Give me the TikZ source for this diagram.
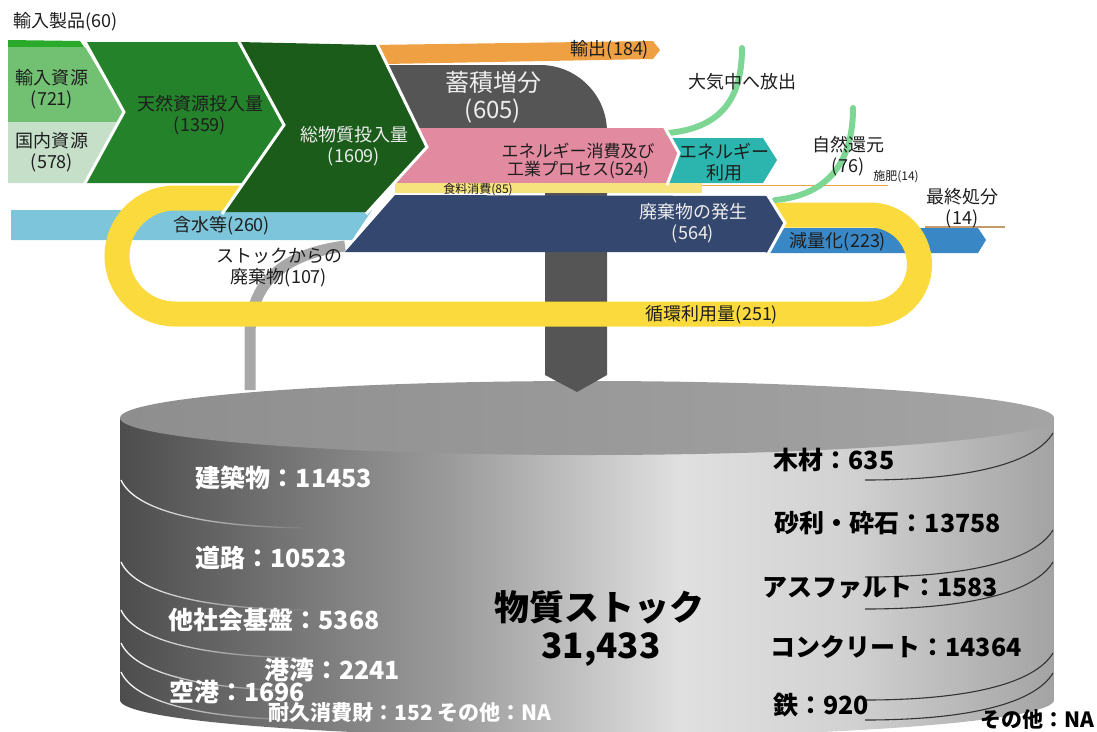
\documentclass[tikz,border=0pt]{standalone}
\usepackage{fontspec}
\setmainfont{Noto Sans CJK JP}
\usetikzlibrary{fadings}
\newcommand{\fsz}[2]{\fontsize{#1pt}{#2pt}\selectfont}
\definecolor{txtc}{HTML}{1E1E1E}
\definecolor{wtxt}{HTML}{EDEDED}
\definecolor{cLB}{HTML}{7CC5DA}
\definecolor{cStock}{HTML}{A8A8A8}
\definecolor{cGray}{HTML}{555555}
\definecolor{cBlue}{HTML}{3A87C6}
\definecolor{cTan}{HTML}{C49A6C}
\definecolor{cYel}{HTML}{FADA3C}
\definecolor{cOrange}{HTML}{EFA043}
\definecolor{cTeal}{HTML}{2BB5AE}
\definecolor{cPink}{HTML}{E28BA0}
\definecolor{cFood}{HTML}{F7E37E}
\definecolor{cNavy}{HTML}{34476E}
\definecolor{cGreenL}{HTML}{7DD693}
\definecolor{cStrip}{HTML}{2AAA2A}
\definecolor{cImp}{HTML}{72C072}
\definecolor{cDom}{HTML}{C6DFC9}
\definecolor{cNat}{HTML}{24822A}
\definecolor{cTot}{HTML}{1B5C1B}
\definecolor{csA}{HTML}{4D4D4D}
\definecolor{csB}{HTML}{9A9A9A}
\definecolor{csC}{HTML}{E0E0E0}
\definecolor{csD}{HTML}{D2D2D2}
\definecolor{csE}{HTML}{A3A3A3}
\definecolor{topL}{HTML}{8E8E8E}
\definecolor{topR}{HTML}{A4A4A4}
\pgfdeclarehorizontalshading{cylside}{100bp}{color(0bp)=(csA); color(25bp)=(csA); color(42.5bp)=(csB); color(55bp)=(csC); color(64bp)=(csD); color(75bp)=(csE); color(100bp)=(csE)}
\begin{document}
\begin{tikzpicture}[x=1pt,y=-1pt,
  lbl/.style={font=\fsz{18}{21}, text=txtc, align=center, inner sep=0pt},
  slbl/.style={font=\fsz{12}{14}, text=txtc, inner sep=0pt},
  wlbl/.style={lbl, text=wtxt},
  cw/.style={font=\bfseries\fsz{25}{28}, text=white, inner sep=0pt},
  cb/.style={font=\bfseries\fsz{25}{28}, text=black, inner sep=0pt},
  gapline/.style={draw=white, line width=3pt},
  gcurve/.style={draw=cGreenL, line width=6pt, line cap=round}]
\useasboundingbox (0,0) rectangle (1097,731);

% ---------- cylinder ----------
\shade[shading=cylside] (120,418) -- (120,700) arc[start angle=180, end angle=360, x radius=467pt, y radius=37pt] -- (1054,418) -- cycle;
\foreach \y in {480,562,610,643,672}{
  \draw[white, line width=1.3pt, path fading=east] (121,\y) .. controls (135,\y+30) and (200,\y+47) .. (310,\y+48);
}
\foreach \y in {433,530,562,653,673}{
  \draw[black!80, line width=1.1pt] (1053,\y) .. controls (1035,\y+30) and (970,\y+47) .. (865,\y+47);
}
\shade[left color=topL, right color=topR] (587,418) ellipse [x radius=467pt, y radius=37pt];

% ---------- flows ----------
\draw[cStock, line width=11pt] (250,390) -- (250,335) .. controls (250,290) and (275,255) .. (345,246);
\fill[cLB] (11,210) -- (372,210) -- (352,240) -- (11,240) -- cycle;
\fill[cGray] (380,65) -- (540,65) arc[start angle=90, end angle=0, radius=67pt] -- (607,375) -- (577,392) -- (545,375) -- (545,128) -- (405,128) -- cycle;
\fill[cBlue] (781,228) -- (978,228) -- (986,240) -- (978,253) -- (766,253) -- cycle;
\draw[cTan, line width=2pt] (925,227) -- (1005,227);
\draw[cYel, line width=25pt] (770,215) -- (870,215) arc[start angle=90, end angle=-90, radius=49.5pt] -- (175,314) arc[start angle=-90, end angle=-270, radius=58pt] -- (245,198);
\fill[cOrange] (372,45) -- (653,41) -- (660,50) -- (653,59) -- (386,64) -- cycle;
\fill[cTeal] (668,138) -- (763,138) -- (777,160) -- (763,183) -- (665,183) -- (677,153) -- cycle;
\fill[cPink] (405,128) -- (664,128) -- (679,153) -- (667,183) -- (395,183) -- cycle;
\draw[cOrange, line width=1.8pt] (690,185.5) -- (888,185.5);
\fill[cFood] (395,183) -- (702,183) -- (702,193) -- (395,193) -- cycle;
\fill[cNavy] (395,195) -- (767,196) -- (785,223) -- (768,252) -- (345,252) -- cycle;
\draw[gcurve] (668,133) .. controls (720,128) and (742,100) .. (742,48);
\draw[gcurve] (775,200) .. controls (830,195) and (853,160) .. (853,108);

% ---------- inputs ----------
\fill[cStrip] (8,40) -- (80,41) -- (84,47) -- (8,47) -- cycle;
\fill[cImp] (8,47) -- (85,47) -- (124,112) -- (118,122) -- (8,122) -- cycle;
\fill[cDom] (8,122) -- (118,122) -- (84,183) -- (8,183) -- cycle;
\fill[cNat] (84,42) -- (238,42) -- (284,125) -- (248,183) -- (84,183) -- (124,112) -- cycle;
\fill[cTot] (238,42) -- (377,45) -- (427,147) -- (368,212) -- (224,212) -- (284,125) -- cycle;

\draw[gapline] (84,40) -- (124,112) -- (84,185);
\draw[gapline] (238,40) -- (284,125) -- (222,214);
\draw[gapline] (376,42) -- (427,147) -- (366,214);
\draw[gapline] (664,126) -- (679,153) -- (667,185);
\draw[gapline] (767,194) -- (785,223) -- (768,254);

% ---------- labels ----------
\node[lbl, anchor=west] (tProd) at (13,22) {輸入製品(60)};
\node[lbl] (tImp) at (52,89) {輸入資源\\(721)};
\node[lbl] (tDom) at (52,152) {国内資源\\(578)};
\node[lbl] (tNat) at (200,115) {天然資源投入量\\(1359)};
\node[wlbl] (tTot) at (354,146) {総物質投入量\\(1609)};
\node[lbl] (tWat) at (222,226) {含水等(260)};
\node[lbl] (tExp) at (610,50) {輸出(184)};
\node[font=\fsz{24}{28}, text=wtxt, inner sep=0pt] (tAcc) at (493,82) {蓄積増分};
\node[font=\fsz{24}{28}, text=wtxt, inner sep=0pt] (tAccN) at (493,111) {(605)};
\node[lbl, font=\fsz{17}{18}] (tEne) at (578,161) {エネルギー消費及び\\工業プロセス(524)};
\node[lbl] (tUse) at (724,162) {エネルギー\\利用};
\node[slbl] (tFood) at (478,190) {食料消費(85)};
\node[wlbl] (tWaste) at (693,223) {廃棄物の発生\\(564)};
\node[lbl] (tRed) at (838,242) {減量化(223)};
\node[lbl] (tFin) at (962,208) {最終処分\\(14)};
\node[slbl] (tFert) at (896,177) {施肥(14)};
\node[lbl] (tNatRet) at (848,156) {自然還元\\(76)};
\node[lbl] (tAir) at (742,82) {大気中へ放出};
\node[lbl] (tStock) at (279,267) {ストックからの\\廃棄物(107)};
\node[lbl] (tCyc) at (712,315) {循環利用量(251)};

% ---------- stock labels ----------
\node[cw] (sBld) at (284,478) {建築物：11453};
\node[cw] (sRoad) at (271,558) {道路：10523};
\node[cw] (sInf) at (274,620) {他社会基盤：5368};
\node[cw] (sPort) at (332,670) {港湾：2241};
\node[cw] (sAir) at (237,692) {空港：1696};
\node[cw, font=\bfseries\fsz{21}{24}] (sDur) at (410,713) {耐久消費財：152 その他：NA};
\node[cb] (sWood) at (834,460) {木材：635};
\node[cb] (sGrav) at (888,523) {砂利・砕石：13758};
\node[cb] (sAsph) at (880,588) {アスファルト：1583};
\node[cb] (sConc) at (896,647) {コンクリート：14364};
\node[cb] (sIron) at (821,705) {鉄：920};
\node[cb, font=\bfseries\fsz{21}{24}] (sOth) at (1037,720) {その他：NA};
\node[font=\bfseries\fsz{35}{40}, inner sep=0pt] (sTitle) at (599,607) {物質ストック};
\node[font=\bfseries\fsz{35}{40}, inner sep=0pt] (sTot) at (601,650) {31,433};
\end{tikzpicture}
\end{document}
